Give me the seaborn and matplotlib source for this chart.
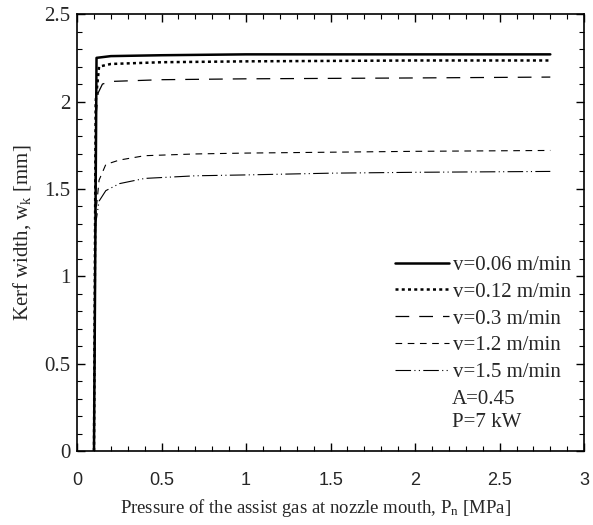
import matplotlib
matplotlib.use("Agg")
import matplotlib.pyplot as plt
from matplotlib.ticker import MultipleLocator, FuncFormatter
import pandas as pd
import seaborn as sns

# kerf width vs. assist gas pressure
labels = ["v=0.06 m/min", "v=0.12 m/min", "v=0.3 m/min", "v=1.2 m/min", "v=1.5 m/min"]

p_006 = [0.10, 0.115, 0.2, 0.5, 1.0, 2.0, 2.8]
w_006 = [0.0, 2.25, 2.26, 2.265, 2.27, 2.27, 2.27]

p_012 = [0.10, 0.11, 0.13, 0.2, 0.5, 1.0, 2.0, 2.8]
w_012 = [0.0, 2.0, 2.2, 2.215, 2.225, 2.23, 2.235, 2.235]

p_03 = [0.10, 0.11, 0.125, 0.15, 0.2, 0.5, 1.0, 2.0, 2.8]
w_03 = [0.0, 1.9, 2.05, 2.1, 2.115, 2.125, 2.13, 2.135, 2.14]

p_12 = [0.10, 0.11, 0.13, 0.17, 0.25, 0.4, 0.7, 1.0, 1.5, 2.0, 2.8]
w_12 = [0.0, 1.35, 1.55, 1.64, 1.665, 1.69, 1.70, 1.705, 1.71, 1.715, 1.72]

p_15 = [0.10, 0.11, 0.13, 0.17, 0.25, 0.4, 0.7, 1.0, 1.5, 2.0, 2.8]
w_15 = [0.0, 1.3, 1.43, 1.49, 1.53, 1.56, 1.575, 1.58, 1.59, 1.595, 1.60]

extra_notes = ["A=0.45", "P=7 kW"]

series = [(p_006, w_006), (p_012, w_012), (p_03, w_03), (p_12, w_12), (p_15, w_15)]
styles = [
    dict(lw=1.8, ls="-"),
    dict(lw=1.8, ls=(0, (1.2, 1.3))),
    dict(lw=0.9, ls=(0, (11, 8))),
    dict(lw=0.8, ls=(0, (6, 5))),
    dict(lw=0.8, ls=(0, (14, 3, 1, 3, 1, 3))),
]

sns.set_style("ticks")
plt.rcParams["font.family"] = ["Liberation Serif", "DejaVu Serif"]
plt.rcParams["mathtext.fontset"] = "custom"
plt.rcParams["mathtext.rm"] = "Liberation Serif"
plt.rcParams["mathtext.it"] = "Liberation Serif:italic"

fig = plt.figure(figsize=(5.93, 5.25), dpi=100)
ax = fig.add_axes([0.130, 0.141, 0.855, 0.832])

for (p, w), lab, st in zip(series, labels, styles):
    df = pd.DataFrame({"p": p, "w": w})
    sns.lineplot(data=df, x="p", y="w", estimator=None, color="black",
                 linewidth=st["lw"], linestyle=st["ls"], label=lab, ax=ax)

ax.set_xlim(0, 3)
ax.set_ylim(0, 2.5)
ax.xaxis.set_major_locator(MultipleLocator(0.5))
ax.xaxis.set_minor_locator(MultipleLocator(0.1))
ax.yaxis.set_major_locator(MultipleLocator(0.5))
ax.yaxis.set_minor_locator(MultipleLocator(0.1))
fmt = FuncFormatter(lambda v, _: f"{v:g}")
ax.xaxis.set_major_formatter(fmt)
ax.yaxis.set_major_formatter(fmt)
ax.tick_params(which="both", direction="in", top=True, right=True, color="black")
ax.tick_params(which="major", length=6, width=1)
ax.tick_params(which="minor", length=3.5, width=0.8)
ax.tick_params(axis="x", pad=15, labelsize=13, labelfontfamily="Liberation Sans")
ax.tick_params(axis="y", pad=5, labelsize=15)
for sp in ax.spines.values():
    sp.set_linewidth(1.2)
    sp.set_color("black")

ax.set_xlabel(r"Pressure of the assist gas at nozzle mouth, P$_\mathregular{n}$ [MPa]",
              fontsize=13.5, labelpad=6)
ax.xaxis.label.set_x(0.47)
ax.set_ylabel(r"Kerf width, w$_\mathregular{k}$ [mm]", fontsize=15, labelpad=8)

ax.legend(loc="upper left", bbox_to_anchor=(0.627, 0.448), frameon=False,
          fontsize=15, handlelength=2.6, handletextpad=0.2, labelspacing=0.35,
          borderpad=0, borderaxespad=0)

# the two operating conditions sit under the legend, aligned with its text
for note, y in zip(extra_notes, [0.117, 0.066]):
    ax.text(0.740, y, note, transform=ax.transAxes, fontsize=15, va="center", ha="left")

fig.savefig("out.png", dpi=100)
